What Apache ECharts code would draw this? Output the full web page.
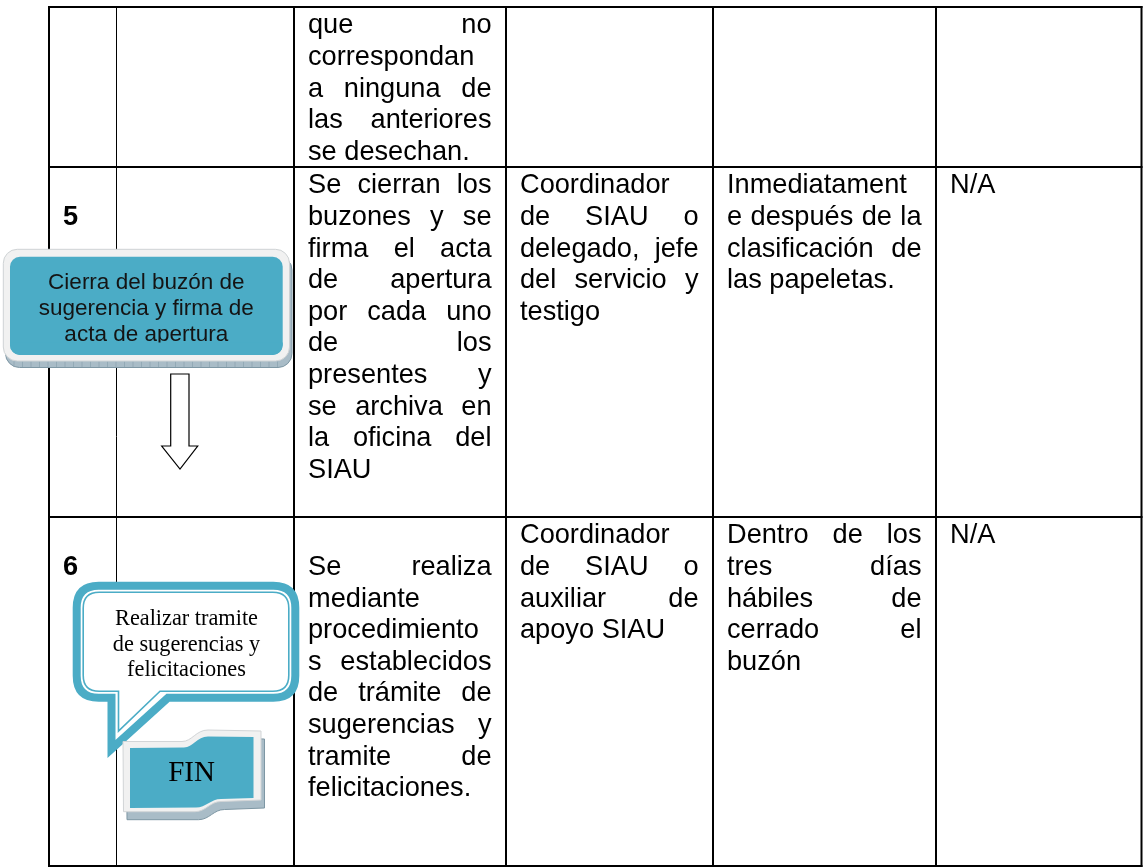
<!DOCTYPE html>
<html><head><meta charset="utf-8">
<script src="https://cdn.jsdelivr.net/npm/echarts@6/dist/echarts.min.js"></script>
<style>html,body{margin:0;padding:0;background:#fff}#main{width:1143px;height:867px}</style>
</head><body><div id="main"></div>
<script>
// ================= DATA =================
const pasos = [[], ['', '5'], ['', '6']];
const descripcion = [
  ['que no', 'correspondan', 'a ninguna de', 'las anteriores', 'se desechan.'],
  ['Se cierran los', 'buzones y se', 'firma el acta', 'de apertura', 'por cada uno', 'de los', 'presentes y', 'se archiva en', 'la oficina del', 'SIAU'],
  ['', 'Se realiza', 'mediante', 'procedimiento', 's establecidos', 'de trámite de', 'sugerencias y', 'tramite de', 'felicitaciones.']
];
const responsable = [
  [],
  ['Coordinador', 'de SIAU o', 'delegado, jefe', 'del servicio y', 'testigo'],
  ['Coordinador', 'de SIAU o', 'auxiliar de', 'apoyo SIAU']
];
const tiempo = [
  [],
  ['Inmediatament', 'e después de la', 'clasificación de', 'las papeletas.'],
  ['Dentro de los', 'tres días', 'hábiles de', 'cerrado el', 'buzón']
];
const registro = [[], ['N/A'], ['N/A']];
const cajaCierre = ['Cierra del buzón de', 'sugerencia y firma de', 'acta de apertura'];
const globoTramite = ['Realizar tramite', 'de sugerencias y', 'felicitaciones'];
const banderaFin = ['FIN'];

// ================= LAYOUT (axis units) =================
const COLS = [49, 116.5, 294, 506, 713, 936, 1141.5];
const ROWS = [7, 167, 517, 866];
const PAD_L = 14, PAD_R = 14.5;
const FS = 27.2;
const FONT = FS + 'px "Liberation Sans", Arial, sans-serif';
const FONT_B = 'bold ' + FONT;
const LINE_H = 31.6;
const FIRST_BASE = 28.3;
const MID = 0.3465 * FS;
const TEAL = '#4bacc6';
const columnsText = [pasos, null, descripcion, responsable, tiempo, registro];

const mctx = document.createElement('canvas').getContext('2d');
function measure(t, font) { mctx.font = font; return mctx.measureText(t).width; }

function txt(text, x, y, font, align, fill) {
  return { type: 'text', style: { text: text, x: x, y: y, font: font, fill: fill || '#000',
    align: align || 'left', verticalAlign: 'middle', textAlign: align || 'left', textVerticalAlign: 'middle' } };
}

function pathOf(api, cmds) {
  let s = '', i = 0;
  while (i < cmds.length) {
    const c = cmds[i++];
    s += c;
    const n = c === 'M' || c === 'L' ? 1 : c === 'Q' ? 2 : c === 'C' ? 3 : 0;
    for (let k = 0; k < n; k++) {
      const p = api.coord([cmds[i], cmds[i + 1]]); i += 2;
      s += ' ' + p[0].toFixed(2) + ' ' + p[1].toFixed(2) + ' ';
    }
  }
  return s;
}
function rectOf(api, x0, y0, x1, y1) {
  const a = api.coord([x0, y0]), b = api.coord([x1, y1]);
  return { x: a[0], y: a[1], width: b[0] - a[0], height: b[1] - a[1] };
}

// ---- series data ----
const borderData = [];
COLS.forEach((_, i) => borderData.push([0, i]));
ROWS.forEach((_, j) => borderData.push([1, j]));
const cellData = [];
[0, 2, 3, 4, 5].forEach(c => [0, 1, 2].forEach(r => cellData.push([c, r])));
const decorNames = ['caja', 'flecha', 'globo', 'bandera'];

function renderBorder(params, api) {
  const kind = api.value(0), i = api.value(1);
  let a, b, w = 2;
  if (kind === 0) {
    a = api.coord([COLS[i], ROWS[0] - 1]); b = api.coord([COLS[i], ROWS[ROWS.length - 1] + 1]);
    if (i === 1) w = 1;
  } else {
    a = api.coord([COLS[0] - 1, ROWS[i]]); b = api.coord([COLS[COLS.length - 1] + 1, ROWS[i]]);
  }
  return { type: 'line', shape: { x1: a[0], y1: a[1], x2: b[0], y2: b[1] }, style: { stroke: '#000', lineWidth: w } };
}

function renderCell(params, api) {
  const c = api.value(0), r = api.value(1);
  const lines = (columnsText[c] && columnsText[c][r]) || [];
  const tl = api.coord([COLS[c] + PAD_L, ROWS[r]]);
  const br = api.coord([COLS[c + 1] - PAD_R, ROWS[r + 1]]);
  const left = tl[0], right = br[0], top = tl[1];
  const font = c === 0 ? FONT_B : FONT;
  let lastIdx = -1;
  lines.forEach((l, i) => { if (l) lastIdx = i; });
  const children = [];
  lines.forEach((ln, i) => {
    if (!ln) return;
    const y = top + FIRST_BASE + i * LINE_H - MID;
    const words = ln.split(' ');
    if (i < lastIdx && words.length > 1) {
      const ws = words.map(w => measure(w, font));
      const tot = ws.reduce((a, b) => a + b, 0);
      const gap = (right - left - tot) / (words.length - 1);
      let x = left;
      words.forEach((w, k) => { children.push(txt(w, x, y, font)); x += ws[k] + gap; });
    } else {
      children.push(txt(ln, left, y, font));
    }
  });
  return { type: 'group', children: children };
}

function renderDecor(params, api) {
  const name = decorNames[params.dataIndex];
  const ch = [];
  if (name === 'caja') {
    ch.push({ type: 'rect', shape: Object.assign(rectOf(api, 5.5, 256, 292, 367.5), { r: 14 }), style: { fill: '#a9bcc7', stroke: '#7e97a4', lineWidth: 1 } });
    for (let x = 14; x < 286; x += 8.5) {
      const a = api.coord([x, 361.5]), b = api.coord([x, 367]);
      ch.push({ type: 'line', shape: { x1: a[0], y1: a[1], x2: b[0], y2: b[1] }, style: { stroke: '#8aa2af', lineWidth: 0.7 } });
    }
    ch.push({ type: 'rect', shape: Object.assign(rectOf(api, 3.3, 249.3, 289.5, 361), { r: 14 }), style: { fill: '#f1f1f1', stroke: '#cfd3d5', lineWidth: 1 } });
    ch.push({ type: 'rect', shape: Object.assign(rectOf(api, 10, 256.7, 282.7, 355), { r: 10 }), style: { fill: TEAL } });
    const cx = api.coord([146.3, 0])[0];
    const ys = [282.3, 308.3, 334.3];
    cajaCierre.forEach((t, i) => ch.push(txt(t, cx, api.coord([0, ys[i]])[1], '22.5px "Liberation Sans", Arial, sans-serif', 'center', '#141414')));
    ch.push({ type: 'rect', shape: Object.assign(rectOf(api, 10, 342.6, 282.7, 355), { r: [0, 0, 10, 10] }), style: { fill: TEAL } });
  } else if (name === 'flecha') {
    const pts = [[170.7, 374], [189, 374], [189, 446], [197.7, 446], [180, 469], [161.7, 446], [170.7, 446]].map(p => api.coord(p));
    ch.push({ type: 'polygon', shape: { points: pts }, style: { fill: '#fff', stroke: '#000', lineWidth: 1.2 } });
  } else if (name === 'globo') {
    const x0 = 76.7, x1 = 295.3, y0 = 585.7, y1 = 697.7, r = 22;
    const outer = ['M', x0 + r, y0, 'L', x1 - r, y0, 'Q', x1, y0, x1, y0 + r, 'L', x1, y1 - r, 'Q', x1, y1, x1 - r, y1,
      'L', 168, y1, 'L', 111.5, 749, 'L', 111.5, y1, 'L', x0 + r, y1, 'Q', x0, y1, x0, y1 - r, 'L', x0, y0 + r, 'Q', x0, y0, x0 + r, y0, 'Z'];
    ch.push({ type: 'path', shape: { pathData: pathOf(api, outer) }, style: { fill: '#fff', stroke: TEAL, lineWidth: 8, lineJoin: 'miter', miterLimit: 10 } });
    const u0 = 83.2, u1 = 288.8, v0 = 592.2, v1 = 691.2, q = 16;
    const inner = ['M', u0 + q, v0, 'L', u1 - q, v0, 'Q', u1, v0, u1, v0 + q, 'L', u1, v1 - q, 'Q', u1, v1, u1 - q, v1,
      'L', 160, v1, 'L', 118.5, 731, 'L', 118.5, v1, 'L', u0 + q, v1, 'Q', u0, v1, u0, v1 - q, 'L', u0, v0 + q, 'Q', u0, v0, u0 + q, v0, 'Z'];
    ch.push({ type: 'path', shape: { pathData: pathOf(api, inner) }, style: { fill: null, stroke: TEAL, lineWidth: 1.6, lineJoin: 'miter', miterLimit: 10 } });
    const cx = api.coord([186.5, 0])[0];
    const ys = [619, 645, 670];
    globoTramite.forEach((t, i) => ch.push(txt(t, cx, api.coord([0, ys[i]])[1], '22.3px "Liberation Serif", "Times New Roman", serif', 'center', '#000')));
  } else if (name === 'bandera') {
    const outerPts = (dx, dy) => ['M', 123 + dx, 741.5 + dy, 'L', 182 + dx, 741.5 + dy, 'C', 192 + dx, 741.5 + dy, 196 + dx, 730 + dy, 208 + dx, 730 + dy,
      'L', 261 + dx, 731 + dy, 'L', 261 + dx, 800 + dy, 'L', 221 + dx, 801.5 + dy, 'C', 210 + dx, 801.5 + dy, 206 + dx, 811.7 + dy, 195 + dx, 811.7 + dy,
      'L', 123.5 + dx, 811.7 + dy, 'Z'];
    ch.push({ type: 'path', shape: { pathData: pathOf(api, outerPts(3.5, 8)) }, style: { fill: '#a9bcc7', stroke: '#7e97a4', lineWidth: 1 } });
    ch.push({ type: 'path', shape: { pathData: pathOf(api, outerPts(0, 0)) }, style: { fill: '#f1f1f1', stroke: '#d2d5d7', lineWidth: 1 } });
    const teal = ['M', 130, 748, 'L', 184, 747.5, 'C', 193, 747.5, 197, 736.5, 208, 736.5, 'L', 253.5, 737, 'L', 253.5, 798,
      'L', 221, 799, 'C', 211, 799, 206, 807.5, 196, 807.5, 'L', 130, 808, 'Z'];
    ch.push({ type: 'path', shape: { pathData: pathOf(api, teal) }, style: { fill: TEAL } });
    const p = api.coord([191.5, 773]);
    ch.push(txt(banderaFin[0], p[0], p[1], '29px "Liberation Serif", "Times New Roman", serif', 'center', '#000'));
  }
  return { type: 'group', children: ch };
}

const chart = echarts.init(document.getElementById('main'), null, { renderer: 'canvas' });
chart.setOption({
  backgroundColor: '#fff',
  animation: false,
  grid: { left: 0, right: 0, top: 0, bottom: 0, containLabel: false },
  xAxis: { type: 'value', min: 0, max: 1143, show: false },
  yAxis: { type: 'value', min: 0, max: 867, inverse: true, show: false },
  tooltip: { show: false },
  series: [
    { type: 'custom', name: 'bordes', coordinateSystem: 'cartesian2d', data: borderData, renderItem: renderBorder, z: 2, clip: false, silent: true },
    { type: 'custom', name: 'celdas', coordinateSystem: 'cartesian2d', data: cellData, renderItem: renderCell, z: 3, clip: false, silent: true },
    { type: 'custom', name: 'flujograma', coordinateSystem: 'cartesian2d', data: decorNames.map((n, i) => [i, 0]), renderItem: renderDecor, z: 4, clip: false, silent: true }
  ]
});
</script></body></html>
